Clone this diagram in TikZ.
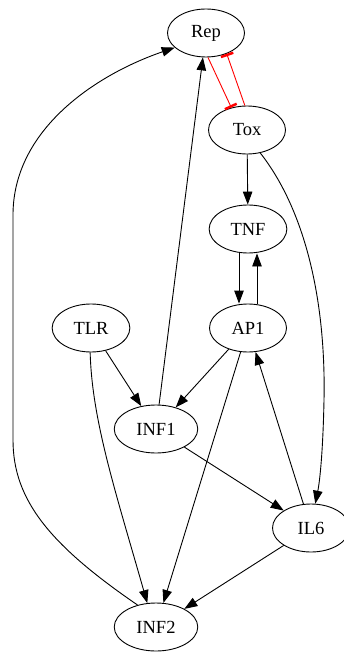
\documentclass[tikz,border=0pt]{standalone}
\usepackage{fontspec}
\setmainfont{Liberation Serif}
\usetikzlibrary{shapes.geometric,arrows.meta}

\begin{document}
\begin{tikzpicture}[x=1pt, y=-1pt, gene/.style={draw, ellipse, minimum width=77pt, minimum height=48pt, inner xsep=10pt, inner ysep=0pt, line width=0.9pt, font=\fontsize{18.5}{20}\selectfont}, edge/.style={->, line width=0.9pt}, inhib/.style={red, line width=0.9pt, -{Bar[width=13pt,line width=2.5pt]}}, >={Triangle[length=13pt,width=9.5pt]}]
\useasboundingbox (0,0) rectangle (343,652);
\node[gene] (Rep) at (206,33) {Rep};
\node[gene] (Tox) at (247,130) {Tox};
\node[gene] (TNF) at (248,229) {TNF};
\node[gene] (AP1) at (248,328) {AP1};
\node[gene] (TLR) at (91,328) {TLR};
\node[gene] (INF1) at (156,429) {INF1};
\node[gene] (IL6) at (311,528) {IL6};
\node[gene] (INF2) at (156,627) {INF2};
\draw[inhib] ([xshift=2pt]Rep.south) -- (Tox.125);
\draw[inhib] (Tox.95) -- (Rep.-45);
\draw[edge] (Tox) -- (TNF);
\draw[edge] (Tox.-60) .. controls (305,210) and (326,300) .. (324,400) .. controls (323,450) and (320,480) .. (IL6.80);
\draw[edge] ([xshift=-9pt]TNF.south) -- ([xshift=-9pt]AP1.north);
\draw[edge] ([xshift=9pt]AP1.north) -- ([xshift=9pt]TNF.south);
\draw[edge] (TLR) -- (INF1);
\draw[edge] (AP1) -- (INF1);
\draw[edge] (TLR.-92) .. controls (92,420) and (115,490) .. (INF2.110);
\draw[edge] (AP1) -- (INF2);
\draw[edge] (INF1) -- (Rep);
\draw[edge] (INF1) -- (IL6);
\draw[edge] (IL6) -- (AP1);
\draw[edge] (IL6) -- (INF2);
\draw[edge] (INF2.130) .. controls (50,545) and (13,500) .. (13,440) -- (13,215) .. controls (13,130) and (95,75) .. (Rep.-155);
\end{tikzpicture}
\end{document}
